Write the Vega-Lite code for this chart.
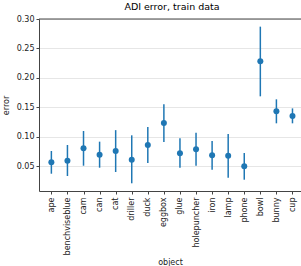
{
  "$schema": "https://vega.github.io/schema/vega-lite/v6.json",
  "width": 262,
  "height": 172,
  "autosize": {"type": "none"},
  "padding": {"left": 39, "top": 19, "right": 0, "bottom": 75},
  "title": {"text": "ADI error, train data", "fontSize": 9.5, "fontWeight": "normal", "font": "DejaVu Sans", "color": "#000", "offset": 4, "anchor": "middle", "dx": 2},
  "config": {
    "view": {"stroke": null},
    "font": "DejaVu Sans",
    "axis": {"labelFont": "DejaVu Sans", "titleFont": "DejaVu Sans", "labelFontSize": 8, "titleFontSize": 8, "titleFontWeight": "normal", "labelColor": "#222", "titleColor": "#222", "domainColor": "#444", "tickColor": "#444", "tickSize": 3, "labelOverlap": false, "labelFlush": false, "labelBound": false}
  },
  "data": {"values": [
    {"object": "ape", "error": 0.0563, "lo": 0.0369, "hi": 0.0755},
    {"object": "benchviseblue", "error": 0.059, "lo": 0.033, "hi": 0.0857},
    {"object": "cam", "error": 0.080, "lo": 0.0505, "hi": 0.1095},
    {"object": "can", "error": 0.0693, "lo": 0.0471, "hi": 0.0914},
    {"object": "cat", "error": 0.0755, "lo": 0.0398, "hi": 0.111},
    {"object": "driller", "error": 0.0607, "lo": 0.0206, "hi": 0.1022},
    {"object": "duck", "error": 0.0857, "lo": 0.0551, "hi": 0.1163},
    {"object": "eggbox", "error": 0.1231, "lo": 0.0908, "hi": 0.155},
    {"object": "glue", "error": 0.0716, "lo": 0.0471, "hi": 0.0971},
    {"object": "holepuncher", "error": 0.0784, "lo": 0.0505, "hi": 0.1067},
    {"object": "iron", "error": 0.0682, "lo": 0.0437, "hi": 0.0925},
    {"object": "lamp", "error": 0.0675, "lo": 0.030, "hi": 0.1044},
    {"object": "phone", "error": 0.0495, "lo": 0.0267, "hi": 0.0721},
    {"object": "bowl", "error": 0.228, "lo": 0.1685, "hi": 0.287},
    {"object": "bunny", "error": 0.143, "lo": 0.1226, "hi": 0.1634},
    {"object": "cup", "error": 0.135, "lo": 0.1226, "hi": 0.148}
  ]},
  "encoding": {
    "x": {"field": "object", "type": "nominal", "sort": null,
      "scale": {"type": "point", "padding": 0.65, "align": 0.592},
      "axis": {"labelAngle": -90, "title": "object", "titlePadding": 4, "labelPadding": 3}},
    "y": {"field": "lo", "type": "quantitative", "scale": {"domain": [0.0075, 0.30], "nice": false, "zero": false},
      "axis": {"values": [0.05, 0.10, 0.15, 0.20, 0.25, 0.30], "format": ".2f", "title": "error", "grid": true, "gridColor": "#e6e6e6", "titlePadding": 6}}
  },
  "layer": [
    {"mark": {"type": "rule", "color": "#1f77b4", "strokeWidth": 1.5},
     "encoding": {"y2": {"field": "hi"}}},
    {"mark": {"type": "circle", "color": "#1f77b4", "opacity": 1, "size": 36},
     "encoding": {"y": {"field": "error", "type": "quantitative"}}},
    {"data": {"values": [{"top": 0.3}]},
     "mark": {"type": "rule", "color": "#444", "strokeWidth": 1},
     "encoding": {"y": {"field": "top", "type": "quantitative"}, "x": null}}
  ]
}
